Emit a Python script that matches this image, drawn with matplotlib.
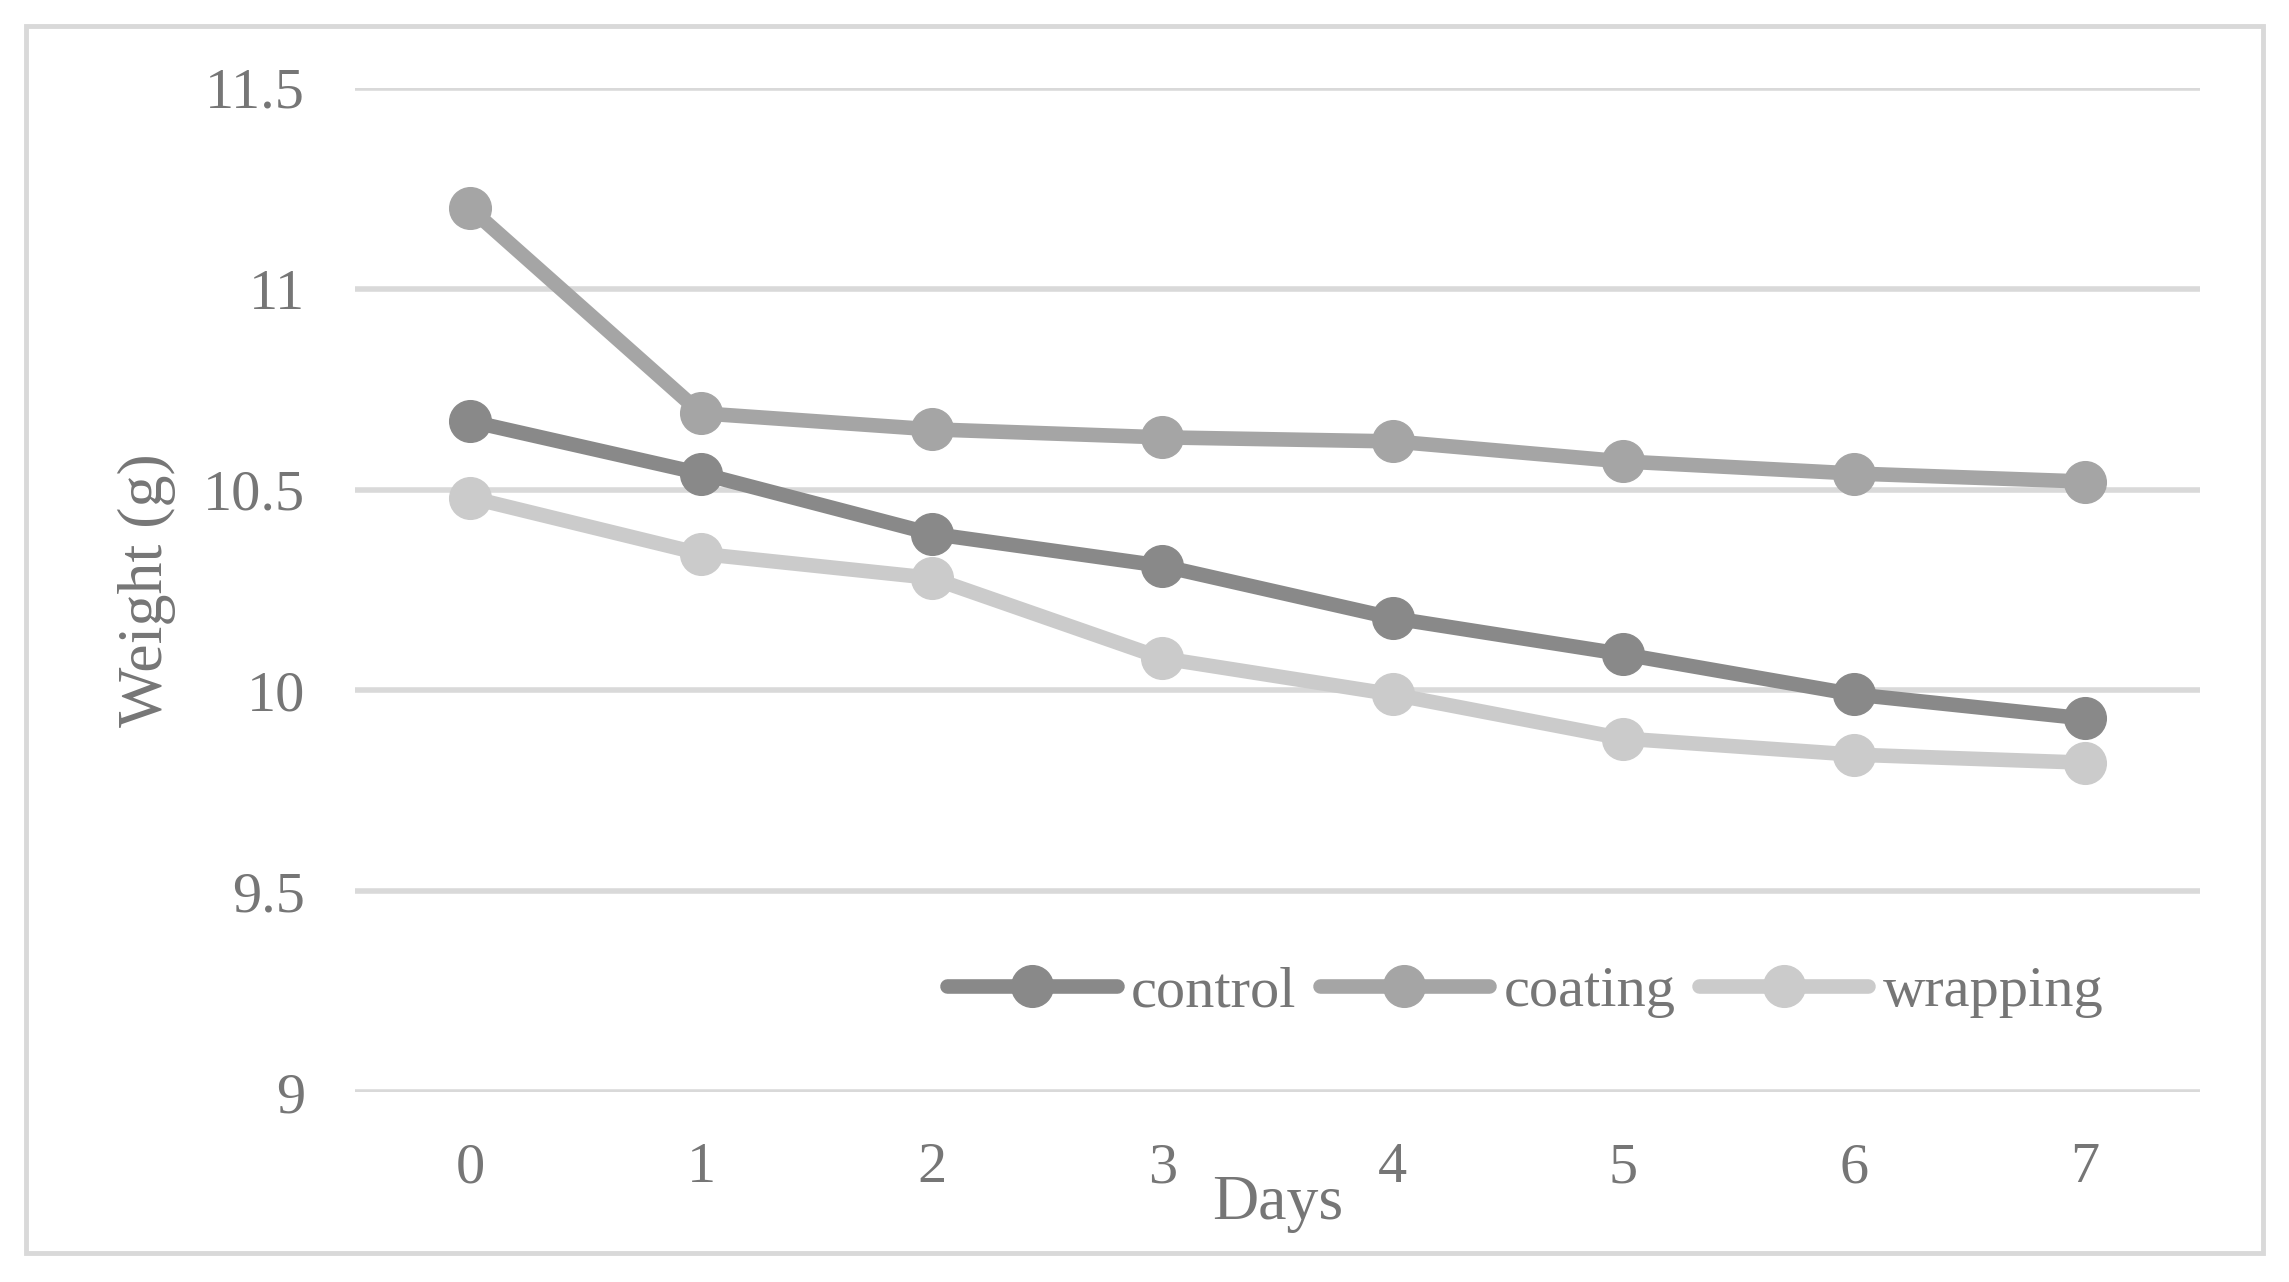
import matplotlib.pyplot as plt
from matplotlib.patches import Rectangle

days = [0, 1, 2, 3, 4, 5, 6, 7]
control = [10.67, 10.54, 10.39, 10.31, 10.18, 10.09, 9.99, 9.93]
coating = [11.20, 10.69, 10.65, 10.63, 10.62, 10.57, 10.54, 10.52]
wrapping = [10.48, 10.34, 10.28, 10.08, 9.99, 9.88, 9.84, 9.82]
y_ticks = [9, 9.5, 10, 10.5, 11, 11.5]
y_labels = ['9', '9.5', '10', '10.5', '11', '11.5']

plt.rcParams['font.family'] = ['Liberation Serif', 'DejaVu Serif']
text_col = '#767676'

fig = plt.figure(figsize=(22.89, 12.82), dpi=100)
ax = fig.add_axes([0.1551, 0.1482, 0.806, 0.7832])

# outer frame like an Excel chart area
fig.patches.append(Rectangle((26 / 2289, 1 - 1253 / 1282), 2237 / 2289, 1227 / 1282,
                             transform=fig.transFigure, fill=False,
                             edgecolor='#d9d9d9', linewidth=3.5))

series = [('control', control, '#898989'),
          ('coating', coating, '#a5a5a5'),
          ('wrapping', wrapping, '#cbcbcb')]
for name, vals, col in series:
    ax.plot(days, vals, color=col, linewidth=10.5, marker='o', markersize=30,
            markerfacecolor=col, markeredgecolor=col, label=name,
            solid_capstyle='round', zorder=3)

ax.set_xlim(-0.5, 7.5)
ax.set_ylim(9, 11.5)
ax.set_xticks(days)
ax.set_xticklabels([str(d) for d in days])
ax.set_yticks(y_ticks)
ax.set_yticklabels(y_labels)
ax.grid(axis='y', color='#d9d9d9', linewidth=4, zorder=0)
ax.set_axisbelow(True)
for s in ['top', 'right', 'left', 'bottom']:
    ax.spines[s].set_visible(False)
ax.tick_params(length=0, labelsize=42, labelcolor=text_col)
ax.tick_params(axis='x', pad=36)
ax.tick_params(axis='y', pad=36)

ax.set_xlabel('Days', fontsize=46, color=text_col)
ax.xaxis.label.set_va('center')
ax.xaxis.set_label_coords(0.5, -0.112)
ax.set_ylabel('Weight (g)', fontsize=46, color=text_col)
ax.yaxis.label.set_va('center')
ax.yaxis.set_label_coords(-0.113, 0.5)

leg = ax.legend(loc='center right', bbox_to_anchor=(0.9635, 0.10), ncol=3,
                frameon=False, fontsize=42, handlelength=2.9,
                handletextpad=0.25, columnspacing=0.4, borderpad=0)
for t in leg.get_texts():
    t.set_color(text_col)

fig.savefig('out.png', dpi=100)
